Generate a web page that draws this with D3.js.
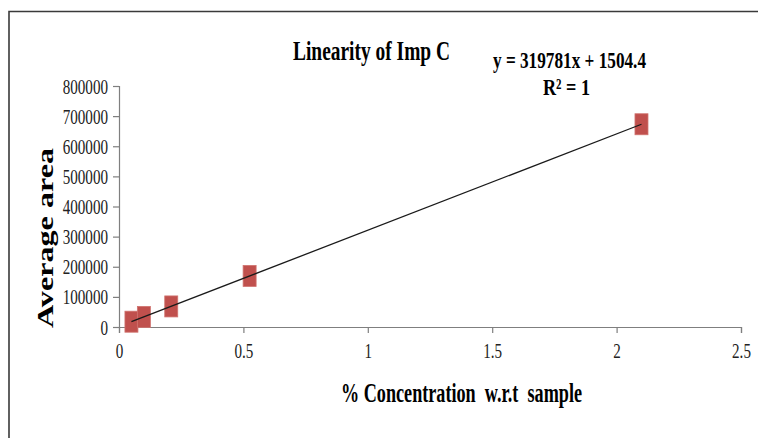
<!DOCTYPE html>
<html>
<head>
<meta charset="utf-8">
<script src="https://cdn.jsdelivr.net/npm/d3@7"></script>
<style>
  html, body { margin: 0; padding: 0; background: #fff; }
  svg { display: block; font-family: "Liberation Serif", "Times New Roman", serif; }
</style>
</head>
<body>
<svg id="chart" width="758" height="438"></svg>
<script>
// Calibration data for Imp C
const concentration = [0.05, 0.1, 0.21, 0.525, 2.1];
const averageArea = [17600, 33500, 68300, 169500, 673000];
const xTicks = [0, 0.5, 1, 1.5, 2, 2.5];
const yTicks = [0, 100000, 200000, 300000, 400000, 500000, 600000, 700000, 800000];
const slope = 319781;
const intercept = 1504.4;
const chartTitle = "Linearity of Imp C";
const equationText = "y = 319781x + 1504.4";
const r2Text = "R\u00B2 = 1";
const xTitle = "% Concentration  w.r.t  sample";
const yTitle = "Average area";

const svg = d3.select("#chart");

// outer frame (runs off the right and bottom edges)
svg.append("path")
  .attr("d", "M9,440 V11.5 H760")
  .attr("fill", "none")
  .attr("stroke", "#3a3a3a")
  .attr("stroke-width", 1.6);

const x = d3.scaleLinear().domain([0, 2.5]).range([119, 741]);
const y = d3.scaleLinear().domain([0, 800000]).range([327, 86]);

// y axis
const yAxis = svg.append("g")
  .attr("transform", `translate(${x(0)},0)`)
  .call(d3.axisLeft(y).tickValues(yTicks).tickSize(6).tickPadding(0).tickFormat(d3.format("d")));
yAxis.select(".domain").attr("stroke", "#7f7f7f").attr("stroke-width", 1.2);
yAxis.selectAll(".tick line").attr("stroke", "#7f7f7f").attr("stroke-width", 1.2);
yAxis.selectAll(".tick text")
  .attr("x", 0).attr("dy", null)
  .attr("transform", "translate(-11,7) scale(0.72,1)")
  .attr("font-size", 21)
  .attr("fill", "#222")
  .attr("font-family", "Liberation Serif");

// x axis
const xAxis = svg.append("g")
  .attr("transform", `translate(0,${y(0)})`)
  .call(d3.axisBottom(x).tickValues(xTicks).tickSize(6).tickPadding(0).tickFormat(d => String(d)));
xAxis.select(".domain").attr("stroke", "#7f7f7f").attr("stroke-width", 1.2);
xAxis.selectAll(".tick line").attr("stroke", "#7f7f7f").attr("stroke-width", 1.2);
xAxis.selectAll(".tick text")
  .attr("y", 0).attr("dy", null)
  .attr("transform", "translate(0,31) scale(0.72,1)")
  .attr("font-size", 21)
  .attr("fill", "#222")
  .attr("font-family", "Liberation Serif");

// data markers
svg.append("g").selectAll("rect")
  .data(concentration.map((c, i) => ({ c, a: averageArea[i] })))
  .join("rect")
  .attr("x", d => x(d.c) - 6.5)
  .attr("y", d => y(d.a) - 10.5)
  .attr("width", 13)
  .attr("height", 21)
  .attr("fill", "#c0504d")
  .attr("stroke", "#d0736f")
  .attr("stroke-width", 0.8);

// linear trendline
const x0 = d3.min(concentration), x1 = d3.max(concentration);
svg.append("line")
  .attr("x1", x(x0)).attr("y1", y(slope * x0 + intercept))
  .attr("x2", x(x1)).attr("y2", y(slope * x1 + intercept))
  .attr("stroke", "#1a1a1a")
  .attr("stroke-width", 1.3);

// titles
svg.append("text")
  .attr("x", 293).attr("y", 60)
  .attr("font-size", 28).attr("font-weight", "bold")
  .attr("textLength", 157).attr("lengthAdjust", "spacingAndGlyphs")
  .text(chartTitle);

svg.append("text")
  .attr("x", 493).attr("y", 68)
  .attr("font-size", 23).attr("font-weight", "bold")
  .attr("textLength", 153).attr("lengthAdjust", "spacingAndGlyphs")
  .text(equationText);

svg.append("text")
  .attr("x", 543).attr("y", 95)
  .attr("font-size", 23).attr("font-weight", "bold")
  .attr("textLength", 47).attr("lengthAdjust", "spacingAndGlyphs")
  .text(r2Text);

svg.append("text")
  .attr("x", 341).attr("y", 402)
  .attr("font-size", 28).attr("font-weight", "bold")
  .attr("textLength", 241).attr("lengthAdjust", "spacingAndGlyphs")
  .attr("xml:space", "preserve")
  .text(xTitle);

svg.append("text")
  .attr("transform", "translate(53,328) rotate(-90)")
  .attr("font-size", 24).attr("font-weight", "bold")
  .attr("textLength", 180).attr("lengthAdjust", "spacingAndGlyphs")
  .text(yTitle);
</script>
</body>
</html>
